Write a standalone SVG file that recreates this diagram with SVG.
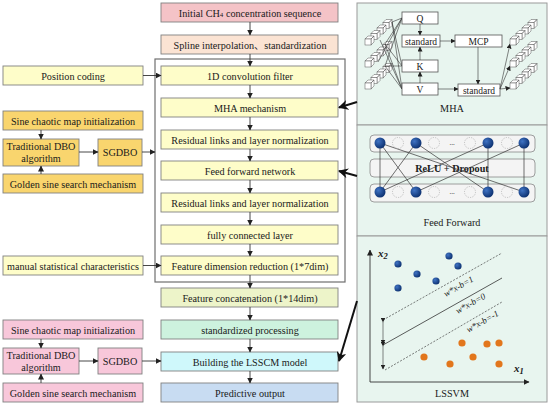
<svg xmlns="http://www.w3.org/2000/svg" xmlns:xlink="http://www.w3.org/1999/xlink" width="550" height="405" viewBox="0 0 550 405">
<style>
text{font-family:"Liberation Serif","Noto Sans CJK SC",serif;fill:#1a1a1a}
.t{font-size:10.2px;text-anchor:middle}
.bx{stroke:#808080;stroke-width:0.9}
.pink{fill:#F4C3C7}.peach{fill:#FBE3D3}.yel{fill:#FEFDC9}.ygreen{fill:#EDF4C9}.mint{fill:#CDF2DE}.cyan{fill:#CFF8FB}.blue{fill:#C8DCF2}
.gold{fill:#F9D56E}.lpink{fill:#F8C7DA}
.ln{stroke:#333;stroke-width:0.9;fill:none}
.frame{fill:none;stroke:#6f6f6f;stroke-width:1.2}
.panel{fill:#E8F5EF;stroke:#9a9a9a;stroke-width:1}
.big{stroke:#111;stroke-width:2;fill:none}
.wb{fill:#fff;stroke:#555;stroke-width:0.8}
.cl{stroke:#333;stroke-width:0.6;fill:none}
.dc{fill:none;stroke:#aaa;stroke-width:0.7;stroke-dasharray:1.2,1.2}
.ds{stroke:#444;stroke-width:0.7;stroke-dasharray:2,1.5;fill:none}
.eq{font-size:9px;font-style:italic;text-anchor:middle}
.s9{font-size:9.5px}
</style>
<defs>
<marker id="ah" markerUnits="userSpaceOnUse" markerWidth="6" markerHeight="6" refX="5.5" refY="3" orient="auto"><path d="M0,0 L6,3 L0,6 z" fill="#222"/></marker>
<marker id="ahb" markerUnits="userSpaceOnUse" markerWidth="10" markerHeight="10" refX="9" refY="5" orient="auto"><path d="M0,0 L10,5 L0,10 L3,5 z" fill="#111"/></marker>
<marker id="ahs" markerUnits="userSpaceOnUse" markerWidth="5" markerHeight="5" refX="4.5" refY="2.5" orient="auto"><path d="M0,0 L5,2.5 L0,5 z" fill="#222"/></marker>
<radialGradient id="bg" cx="0.35" cy="0.35" r="0.7"><stop offset="0" stop-color="#3f73c4"/><stop offset="1" stop-color="#0b2f6e"/></radialGradient>
<g id="cube"><path d="M0,0 L3,-3 L9,-3 L6,0 Z M6,0 L9,-3 L9,3 L6,6 Z" fill="#fff" stroke="#555" stroke-width="0.5"/><rect x="0" y="0" width="6" height="6" fill="#fff" stroke="#555" stroke-width="0.5"/></g>
<g id="chain"><use xlink:href="#cube" x="18" y="-16.5"/><use xlink:href="#cube" x="12" y="-11"/><use xlink:href="#cube" x="6" y="-5.5"/><use xlink:href="#cube" x="0" y="0"/></g>
</defs>
<rect width="550" height="405" fill="#fff"/>

<!-- right panels -->
<g id="panel-mha">
<rect class="panel" x="357" y="3" width="190" height="122"/>
<use xlink:href="#chain" x="365" y="39"/>
<use xlink:href="#chain" x="365" y="61"/>
<use xlink:href="#chain" x="365" y="83"/>
<g class="cl">
<line x1="392" y1="22" x2="402" y2="18"/><line x1="392" y1="22" x2="402" y2="66"/><line x1="392" y1="22" x2="402" y2="89"/>
<line x1="385" y1="44" x2="402" y2="18"/><line x1="385" y1="44" x2="402" y2="66"/><line x1="385" y1="44" x2="402" y2="89"/>
<line x1="385" y1="66" x2="402" y2="18"/><line x1="385" y1="66" x2="402" y2="66"/><line x1="385" y1="66" x2="402" y2="89"/>
<line x1="380" y1="40" x2="402" y2="89"/><line x1="378" y1="62" x2="402" y2="18"/>
</g>
<rect class="wb" x="402" y="12" width="36" height="12"/><text x="420" y="21.5" class="t s9">Q</text>
<rect class="wb" x="402" y="35" width="38" height="12"/><text x="421" y="44.5" class="t s9">standard</text>
<rect class="wb" x="402" y="60" width="36" height="12"/><text x="420" y="69.5" class="t s9">K</text>
<rect class="wb" x="402" y="83" width="36" height="12"/><text x="420" y="92.5" class="t s9">V</text>
<rect class="wb" x="455" y="35" width="47" height="12"/><text x="478.5" y="44.5" class="t s9">MCP</text>
<rect class="wb" x="458" y="84" width="42" height="12"/><text x="479" y="93.5" class="t s9">standard</text>
<g class="cl">
<line x1="420" y1="24" x2="420" y2="35" marker-end="url(#ahs)"/>
<line x1="420" y1="60" x2="420" y2="47" marker-end="url(#ahs)"/>
<line x1="420" y1="83" x2="420" y2="72" marker-end="url(#ahs)"/>
<line x1="440" y1="41" x2="455" y2="41" marker-end="url(#ahs)"/>
<line x1="478" y1="47" x2="478" y2="84" marker-end="url(#ahs)"/>
<line x1="438" y1="89" x2="458" y2="89" marker-end="url(#ahs)"/>
<line x1="500" y1="89" x2="510" y2="44" marker-end="url(#ahs)"/>
<line x1="500" y1="89" x2="510" y2="66" marker-end="url(#ahs)"/>
<line x1="500" y1="89" x2="510" y2="88" marker-end="url(#ahs)"/>
</g>
<use xlink:href="#chain" x="510" y="39"/>
<use xlink:href="#chain" x="510" y="61"/>
<use xlink:href="#chain" x="510" y="83"/>
<text x="452" y="112" class="t">MHA</text>
</g>

<g id="panel-ff">
<rect class="panel" x="357" y="125" width="190" height="111"/>
<rect x="370" y="135" width="165" height="17" rx="4" fill="#f4f4f4" stroke="#888" stroke-width="0.8"/>
<rect x="370" y="159" width="165" height="18" rx="4" fill="#f4f4f4" stroke="#888" stroke-width="0.8"/>
<rect x="370" y="184" width="165" height="18" rx="4" fill="#f4f4f4" stroke="#888" stroke-width="0.8"/>
<text x="452" y="171.5" class="t" style="font-weight:bold">ReLU + Dropout</text>
<g class="cl" style="stroke-width:0.7">
<line x1="380" y1="143" x2="380" y2="192"/><line x1="380" y1="143" x2="416" y2="192"/><line x1="380" y1="143" x2="524" y2="192"/>
<line x1="416" y1="143" x2="380" y2="192"/><line x1="416" y1="143" x2="488" y2="192"/>
<line x1="488" y1="143" x2="380" y2="192"/><line x1="488" y1="143" x2="488" y2="192"/>
<line x1="524" y1="143" x2="416" y2="192"/><line x1="524" y1="143" x2="524" y2="192"/>
</g>
<g fill="url(#bg)"><circle cx="380" cy="143" r="5.5"/><circle cx="416" cy="143" r="5.5"/><circle cx="488" cy="143" r="5.5"/><circle cx="524" cy="143" r="5.5"/>
<circle cx="380" cy="192" r="5.5"/><circle cx="416" cy="192" r="5.5"/><circle cx="488" cy="192" r="5.5"/><circle cx="524" cy="192" r="5.5"/></g>
<g class="dc"><circle cx="398" cy="143" r="5.5"/><circle cx="434" cy="143" r="5.5"/><circle cx="470" cy="143" r="5.5"/><circle cx="507" cy="143" r="5.5"/>
<circle cx="398" cy="192" r="5.5"/><circle cx="434" cy="192" r="5.5"/><circle cx="470" cy="192" r="5.5"/><circle cx="507" cy="192" r="5.5"/></g>
<text x="452" y="145" class="t" style="font-size:7px">...</text>
<text x="452" y="194" class="t" style="font-size:7px">...</text>
<text x="452" y="226" class="t">Feed Forward</text>
</g>

<g id="panel-lssvm">
<rect class="panel" x="357" y="236" width="190" height="166"/>
<line x1="370" y1="382" x2="370" y2="250" class="ln" marker-end="url(#ah)"/>
<line x1="370" y1="382" x2="529" y2="382" class="ln" marker-end="url(#ah)"/>
<text x="378" y="257" style="font-size:11px;font-style:italic;font-weight:bold">x<tspan dy="2" style="font-size:8.5px">2</tspan></text>
<text x="514" y="372" style="font-size:11px;font-style:italic;font-weight:bold">x<tspan dy="2" style="font-size:8.5px">1</tspan></text>
<line x1="383" y1="320" x2="502" y2="253" class="ds"/>
<line x1="383" y1="345" x2="502" y2="278" stroke="#333" stroke-width="0.8"/>
<line x1="385" y1="370" x2="502" y2="302" class="ds"/>
<line x1="383" y1="322" x2="383" y2="344" class="cl" marker-start="url(#ahs)" marker-end="url(#ahs)"/>
<line x1="383" y1="346" x2="383" y2="369" class="cl" marker-start="url(#ahs)" marker-end="url(#ahs)"/>
<text class="eq" transform="translate(460,289) rotate(-29.4)">w*x-b=1</text>
<text class="eq" transform="translate(472,306) rotate(-29.4)">w*x-b=0</text>
<text class="eq" transform="translate(484,324) rotate(-29.4)">w*x-b=-1</text>
<g fill="url(#bg)"><circle cx="398" cy="264" r="3.6"/><circle cx="417" cy="274" r="3.6"/><circle cx="436" cy="281" r="3.6"/><circle cx="398" cy="288" r="3.6"/><circle cx="449" cy="256" r="3.6"/><circle cx="458" cy="266" r="3.6"/></g>
<g fill="#E2761C"><circle cx="462" cy="343" r="3.6"/><circle cx="487" cy="344" r="3.6"/><circle cx="499" cy="343" r="3.6"/><circle cx="424" cy="357" r="3.6"/><circle cx="473" cy="357" r="3.6"/><circle cx="450" cy="364" r="3.6"/><circle cx="499" cy="364" r="3.6"/></g>
<text x="452" y="397" class="t">LSSVM</text>
</g>

<!-- frame -->
<rect class="frame" x="155" y="59" width="190" height="223"/>

<!-- center nodes -->
<g id="n-initial"><rect class="bx pink" x="161" y="3" width="177" height="19"/><text x="250" y="16.5" class="t">Initial CH<tspan style="font-size:7px">4</tspan> concentration sequence</text></g>
<g id="n-spline"><rect class="bx peach" x="161" y="35" width="177" height="19"/><text x="250" y="48.5" class="t">Spline interpolation、standardization</text></g>
<g id="n-conv"><rect class="bx yel" x="161" y="66" width="177" height="19"/><text x="250" y="79.5" class="t">1D convolution filter</text></g>
<g id="n-mha"><rect class="bx yel" x="161" y="98" width="177" height="19"/><text x="250" y="111.5" class="t">MHA mechanism</text></g>
<g id="n-res1"><rect class="bx yel" x="161" y="130" width="177" height="19"/><text x="250" y="143.5" class="t">Residual links and layer normalization</text></g>
<g id="n-ffn"><rect class="bx yel" x="161" y="161" width="177" height="19"/><text x="250" y="174.5" class="t">Feed forward network</text></g>
<g id="n-res2"><rect class="bx yel" x="161" y="193" width="177" height="19"/><text x="250" y="206.5" class="t">Residual links and layer normalization</text></g>
<g id="n-fc"><rect class="bx yel" x="161" y="225" width="177" height="19"/><text x="250" y="238.5" class="t">fully connected layer</text></g>
<g id="n-fdr"><rect class="bx yel" x="161" y="256" width="177" height="19"/><text x="250" y="269.5" class="t">Feature dimension reduction (1*7dim)</text></g>
<g id="n-concat"><rect class="bx ygreen" x="161" y="288" width="177" height="19"/><text x="250" y="301.5" class="t">Feature concatenation (1*14dim)</text></g>
<g id="n-std"><rect class="bx mint" x="161" y="320" width="177" height="19"/><text x="250" y="333.5" class="t">standardized processing</text></g>
<g id="n-lsscm"><rect class="bx cyan" x="161" y="352" width="177" height="19"/><text x="250" y="365.5" class="t">Building the LSSCM model</text></g>
<g id="n-out"><rect class="bx blue" x="161" y="383" width="177" height="19"/><text x="250" y="396.5" class="t">Predictive output</text></g>

<!-- left nodes -->
<g id="n-pos"><rect class="bx yel" x="3" y="66" width="140" height="19"/><text x="73" y="79.5" class="t">Position coding</text></g>
<g id="n-sine1"><rect class="bx gold" x="3" y="111" width="140" height="19"/><text x="73" y="124.5" class="t">Sine chaotic map initialization</text></g>
<g id="n-dbo1"><rect class="bx gold" x="3" y="139" width="76" height="27"/><text x="41" y="150" class="t">Traditional DBO</text><text x="41" y="162" class="t">algorithm</text></g>
<g id="n-sg1"><rect class="bx gold" x="98" y="139" width="44" height="27"/><text x="120" y="156" class="t">SGDBO</text></g>
<g id="n-gold1"><rect class="bx gold" x="3" y="174" width="140" height="19"/><text x="73" y="187.5" class="t">Golden sine search mechanism</text></g>
<g id="n-manual"><rect class="bx yel" x="3" y="256" width="140" height="19"/><text x="73" y="269.5" class="t">manual statistical characteristics</text></g>
<g id="n-sine2"><rect class="bx lpink" x="3" y="320" width="140" height="19"/><text x="73" y="333.5" class="t">Sine chaotic map initialization</text></g>
<g id="n-dbo2"><rect class="bx lpink" x="3" y="348" width="76" height="26"/><text x="41" y="359" class="t">Traditional DBO</text><text x="41" y="371" class="t">algorithm</text></g>
<g id="n-sg2"><rect class="bx lpink" x="98" y="348" width="44" height="26"/><text x="120" y="365" class="t">SGDBO</text></g>
<g id="n-gold2"><rect class="bx lpink" x="3" y="383" width="140" height="19"/><text x="73" y="396.5" class="t">Golden sine search mechanism</text></g>

<!-- connectors -->
<g id="connectors" class="ln">
<line x1="250" y1="22" x2="250" y2="35" marker-end="url(#ah)"/>
<line x1="250" y1="54" x2="250" y2="66" marker-end="url(#ah)"/>
<line x1="250" y1="85" x2="250" y2="98" marker-end="url(#ah)"/>
<line x1="250" y1="117" x2="250" y2="130" marker-end="url(#ah)"/>
<line x1="250" y1="149" x2="250" y2="161" marker-end="url(#ah)"/>
<line x1="250" y1="180" x2="250" y2="193" marker-end="url(#ah)"/>
<line x1="250" y1="212" x2="250" y2="225" marker-end="url(#ah)"/>
<line x1="250" y1="244" x2="250" y2="256" marker-end="url(#ah)"/>
<line x1="250" y1="275" x2="250" y2="288" marker-end="url(#ah)"/>
<line x1="250" y1="307" x2="250" y2="320" marker-end="url(#ah)"/>
<line x1="250" y1="339" x2="250" y2="352" marker-end="url(#ah)"/>
<line x1="250" y1="371" x2="250" y2="383" marker-end="url(#ah)"/>
<line x1="143" y1="75.5" x2="161" y2="75.5" marker-end="url(#ah)"/>
<line x1="41" y1="130" x2="41" y2="139" marker-end="url(#ah)"/>
<line x1="41" y1="174" x2="41" y2="166" marker-end="url(#ah)"/>
<line x1="79" y1="152" x2="98" y2="152" marker-end="url(#ah)"/>
<line x1="142" y1="152" x2="155" y2="152" marker-end="url(#ah)"/>
<line x1="143" y1="265.5" x2="161" y2="265.5" marker-end="url(#ah)"/>
<line x1="41" y1="339" x2="41" y2="348" marker-end="url(#ah)"/>
<line x1="41" y1="383" x2="41" y2="374" marker-end="url(#ah)"/>
<line x1="79" y1="361" x2="98" y2="361" marker-end="url(#ah)"/>
<line x1="142" y1="361" x2="161" y2="361" marker-end="url(#ah)"/>
<line class="big" x1="357" y1="102" x2="339" y2="107.5" marker-end="url(#ahb)"/>
<line class="big" x1="357" y1="176" x2="339" y2="171" marker-end="url(#ahb)"/>
<line class="big" x1="357" y1="301" x2="339" y2="361" marker-end="url(#ahb)"/>
</g>
</svg>
